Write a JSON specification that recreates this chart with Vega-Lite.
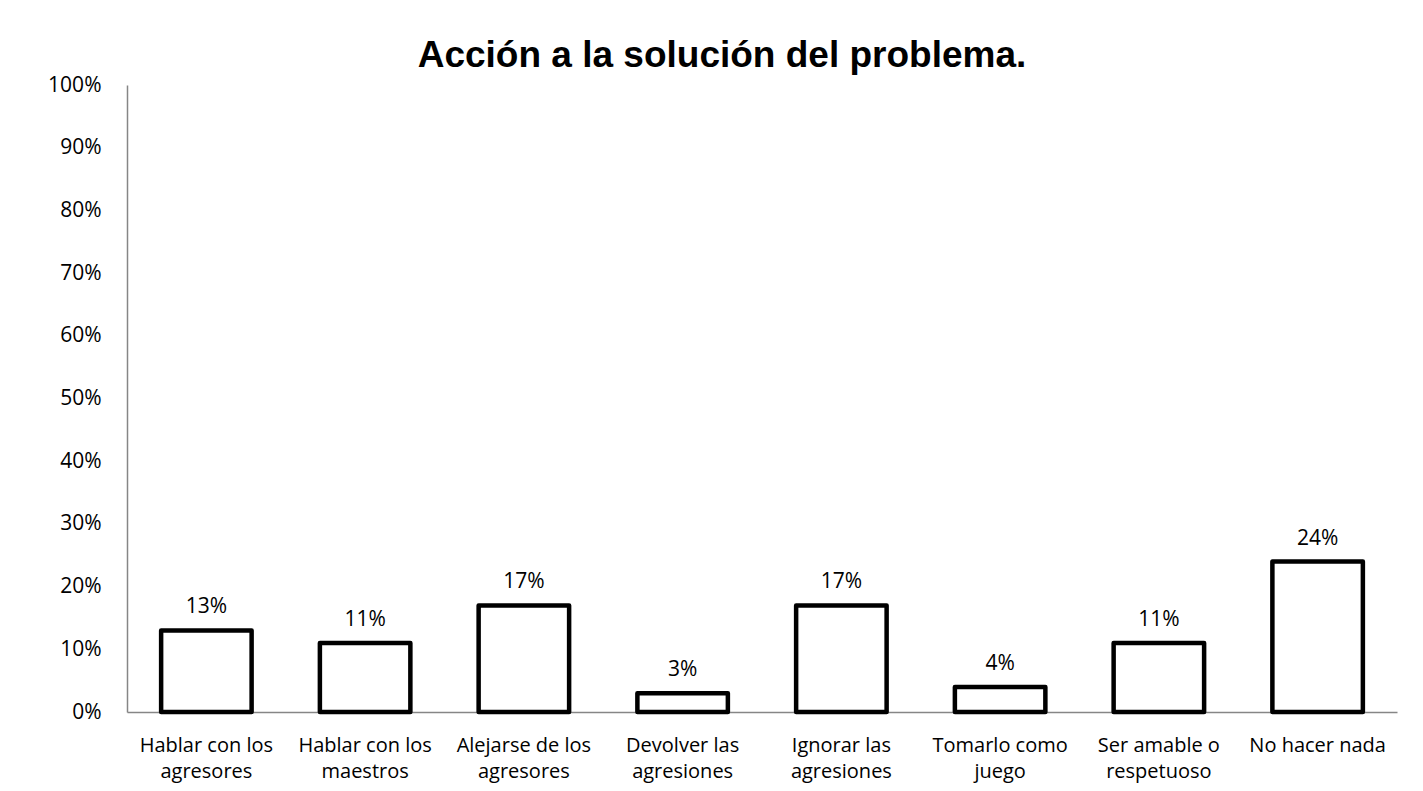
{
  "$schema": "https://vega.github.io/schema/vega-lite/v6.json",
  "width": 1270,
  "height": 627,
  "autosize": {"type": "none"},
  "padding": {"left": 127, "top": 85, "right": 26, "bottom": 79},
  "background": "white",
  "config": {"view": {"stroke": null}, "font": "Open Sans"},
  "title": {
    "text": "Acción a la solución del problema.",
    "font": "Liberation Sans",
    "fontSize": 37,
    "fontWeight": "bold",
    "color": "black",
    "anchor": "middle",
    "dx": -40,
    "offset": -1
  },
  "data": {
    "values": [
      {"accion": "Hablar con los agresores", "pct": 0.13},
      {"accion": "Hablar con los maestros", "pct": 0.11},
      {"accion": "Alejarse de los agresores", "pct": 0.17},
      {"accion": "Devolver las agresiones", "pct": 0.03},
      {"accion": "Ignorar las agresiones", "pct": 0.17},
      {"accion": "Tomarlo como juego", "pct": 0.04},
      {"accion": "Ser amable o respetuoso", "pct": 0.11},
      {"accion": "No hacer nada", "pct": 0.24}
    ]
  },
  "encoding": {
    "x": {
      "field": "accion",
      "type": "nominal",
      "sort": null,
      "scale": {"paddingInner": 0.43, "paddingOuter": 0.215},
      "axis": {
        "title": null,
        "labelAngle": 0,
        "ticks": false,
        "domainColor": "#868686",
        "domainWidth": 1.5,
        "labelFontSize": 20,
        "labelFont": "Open Sans",
        "labelColor": "black",
        "labelPadding": 23,
        "labelLineHeight": 26,
        "labelLimit": 0,
        "labelExpr": "datum.label == 'No hacer nada' ? datum.label : split(replace(datum.label, regexp('^(.*) (\\\\S+)$'), '$1|$2'), '|')"
      }
    },
    "y": {
      "field": "pct",
      "type": "quantitative",
      "scale": {"domain": [0, 1]},
      "axis": {
        "title": null,
        "format": ".0%",
        "values": [0, 0.1, 0.2, 0.3, 0.4, 0.5, 0.6, 0.7, 0.8, 0.9, 1],
        "grid": false,
        "ticks": false,
        "domainColor": "#868686",
        "domainWidth": 1.5,
        "labelFontSize": 21,
        "labelFont": "Open Sans",
        "labelColor": "black",
        "labelPadding": 26
      }
    }
  },
  "layer": [
    {
      "mark": {"type": "bar", "fill": "white", "stroke": "black", "strokeWidth": 4.5, "strokeJoin": "round"}
    },
    {
      "mark": {"type": "text", "baseline": "alphabetic", "dy": -17, "fontSize": 21, "color": "black", "font": "Open Sans"},
      "encoding": {"text": {"field": "pct", "type": "quantitative", "format": ".0%"}}
    }
  ]
}
